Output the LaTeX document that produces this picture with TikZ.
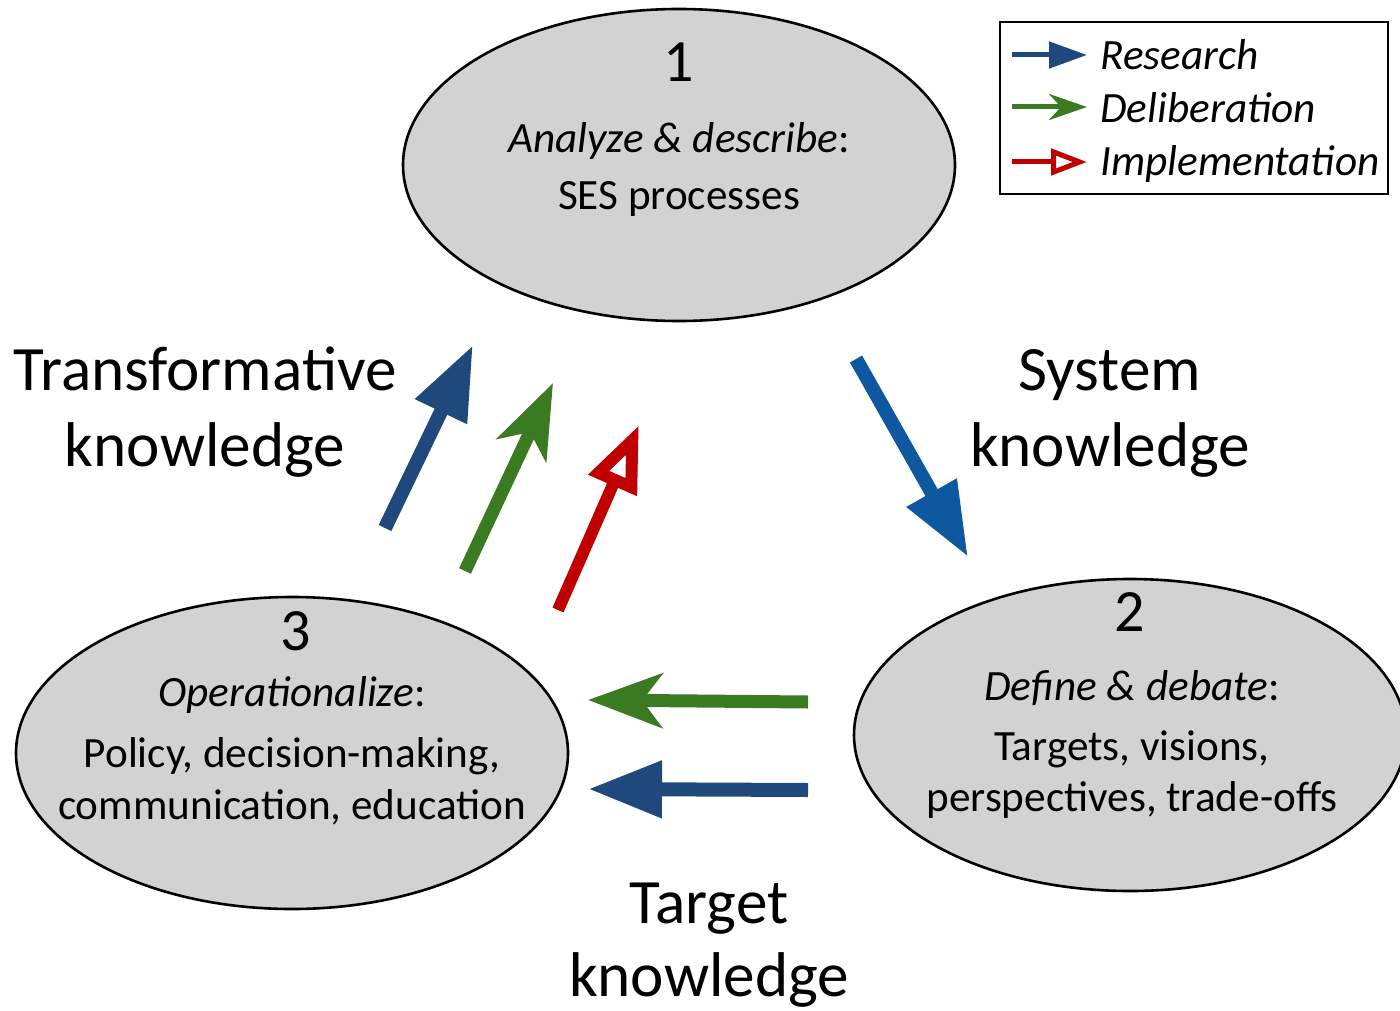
\documentclass[tikz,border=0pt]{standalone}
\usepackage{fontspec}
\setmainfont{Carlito}
\usetikzlibrary{positioning,calc,arrows.meta,shapes.geometric}
\definecolor{resblue}{RGB}{31,73,125}
\definecolor{sysblue}{RGB}{14,88,160}
\definecolor{delgreen}{RGB}{58,122,32}
\definecolor{impred}{RGB}{192,0,0}
\definecolor{ellgray}{RGB}{210,210,210}

\begin{document}
\begin{tikzpicture}
      [x=0.5pt,y=-0.5pt,
       stage/.style={ellipse,draw=black,fill=ellgray,line width=1.3pt,minimum width=276pt,minimum height=156pt},
       num/.style={anchor=base,font=\fontsize{30}{36}\selectfont},
       head/.style={anchor=base,font=\fontsize{21.6}{26}\selectfont\itshape},
       body/.style={anchor=base,font=\fontsize{21.6}{26}\selectfont},
       big/.style={anchor=base,font=\fontsize{31.6}{38.5}\selectfont},
       leg/.style={anchor=base west,inner sep=0pt,font=\fontsize{21.6}{26}\selectfont\itshape},
       res/.style={resblue,line width=7pt,-{Triangle[length=37pt,width=27pt]}},
       sys/.style={sysblue,line width=7pt,-{Triangle[length=37pt,width=27pt]}},
       del/.style={delgreen,line width=6.5pt,-{Stealth[length=37pt,width=27pt,inset=10pt]}},
       imp/.style={impred,line width=6pt,-{Triangle[open,length=33pt,width=25pt]}}]
      \useasboundingbox (0,0) rectangle (1400,1010);

      % stages
      \node[stage] (s1) at (679,165) {};
      \node[stage] (s2) at (1130,735) {};
      \node[stage] (s3) at (292,753) {};

      \node[num] (n1) at (679,82) {1};
      \node[head] (h1) at (679,153) {Analyze \& describe\normalfont:};
      \node[body] (b1) at (679,210) {SES processes};

      \node[num] (n2) at (1130,631) {2};
      \node[head] (h2) at (1132,700) {Define \& debate\normalfont:};
      \node[body] (b2a) at (1132,760) {Targets, visions,};
      \node[body] (b2b) at (1132,811) {perspectives, trade-offs};

      \node[num] (n3) at (296,650) {3};
      \node[head] (h3) at (292,706) {Operationalize\normalfont:};
      \node[body] (b3a) at (292,767) {Policy, decision-making,};
      \node[body] (b3b) at (292,819) {communication, education};

      % knowledge labels
      \node[big] (tk1) at (205,390) {Transformative};
      \node[big] (tk2) at (205,466) {knowledge};
      \node[big] (sk1) at (1110,390) {System};
      \node[big] (sk2) at (1110,466) {knowledge};
      \node[big] (gk1) at (709,923) {Target};
      \node[big] (gk2) at (709,996) {knowledge};

      % arrows
      \coordinate (ra) at (385,528);  \coordinate (rb) at (473,345);
      \coordinate (da) at (465,571);  \coordinate (db) at (553,383);
      \coordinate (ia) at (558,610);  \coordinate (ib) at (639,425);
      \coordinate (sa) at (856,359);  \coordinate (sb) at (968,557);
      \coordinate (la) at (808,702);  \coordinate (lb) at (588,700);
      \coordinate (ma) at (808,790);  \coordinate (mb) at (588,789);

      \draw[res] (ra) -- (rb);
      \draw[del] (da) -- (db);
      \draw[imp] (ia) -- (ib);
      \draw[sys] (sa) -- (sb);
      \draw[del] (la) -- (lb);
      \draw[res] (ma) -- (mb);

      % legend
      \draw[line width=1pt] (1000,22) rectangle (1388,194);
      \coordinate (k1a) at (1012,55);   \coordinate (k1b) at (1087,55);
      \coordinate (k2a) at (1012,107);  \coordinate (k2b) at (1087,107);
      \coordinate (k3a) at (1012,162);  \coordinate (k3b) at (1087,162);
      \draw[resblue,line width=2.5pt,-{Triangle[length=19pt,width=13pt]}] (k1a) -- (k1b);
      \draw[delgreen,line width=2.5pt,-{Stealth[length=19pt,width=13pt,inset=6pt]}] (k2a) -- (k2b);
      \draw[impred,line width=2.5pt,-{Triangle[open,length=18pt,width=13pt]}] (k3a) -- (k3b);
      \node[leg] (l1) at (1100,70) {Research};
      \node[leg] (l2) at (1100,123) {Deliberation};
      \node[leg] (l3) at (1100,176) {Implementation};
    \end{tikzpicture}
\end{document}
